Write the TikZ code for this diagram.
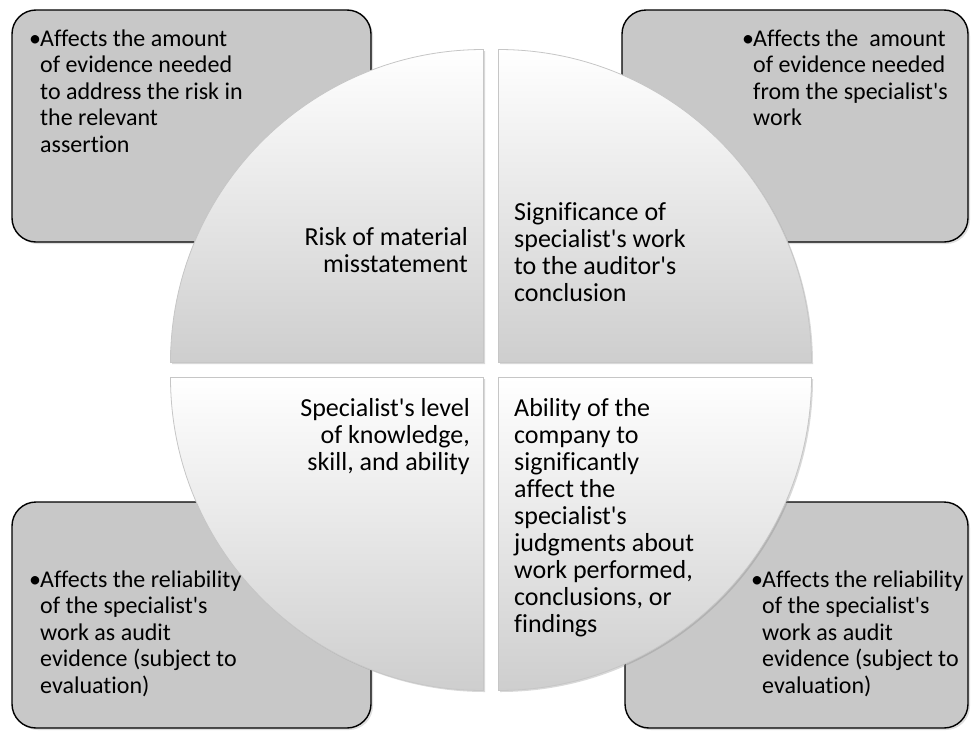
\documentclass[tikz,border=0pt]{standalone}
\usepackage{fontspec}
\newfontfamily\carlito{Carlito}[Ligatures = {NoCommon}]
\usetikzlibrary{shadows}
\definecolor{boxgray}{RGB}{200,200,200}
\definecolor{slicegray}{RGB}{206,206,206}
\newcommand{\bul}{\makebox[11pt][l]{•}}

\begin{document}
\begin{tikzpicture}[x = 1pt, y = -1pt,
  infobox/.style = {draw = black, line width = 1.4pt, fill = boxgray, rounded corners = 24pt,
    drop shadow = {shadow xshift = 2pt, shadow yshift = -2pt, opacity = 0.25}},
  slice/.style = {draw = gray!45, line width = 0.8pt, top color = white, bottom color = slicegray,
    drop shadow = {shadow xshift = 1.5pt, shadow yshift = -1.5pt, opacity = 0.3}},
  boxtext/.style = {inner sep = 0pt, anchor = base west, font = \carlito\fontsize{24}{26.5}\selectfont},
  quadtext/.style = {inner sep = 0pt, font = \carlito\fontsize{26}{27}\selectfont}]
\useasboundingbox (0, 0) rectangle (971, 731);
% Corner boxes
\path[infobox] (12, 10) rectangle (371, 242);
\path[infobox] (622, 10) rectangle (968, 242);
\path[infobox] (12, 502) rectangle (371, 728);
\path[infobox] (625, 502) rectangle (968, 728);
% Circle quadrants
\path[slice] (483.5, 362.5) -- ++(-313, 0) arc[start angle = 180, end angle = 270, radius = 313] -- cycle;
\path[slice] (498.5, 362.5) -- ++(0, -313) arc[start angle = 270, end angle = 360, radius = 313] -- cycle;
\path[slice] (498.5, 377.5) -- ++(313, 0) arc[start angle = 0, end angle = 90, radius = 313] -- cycle;
\path[slice] (483.5, 377.5) -- ++(0, 313) arc[start angle = 90, end angle = 180, radius = 313] -- cycle;
% Box texts
\node[boxtext] (riskbox) at (29, 46) {\begin{tabular}[t]{@{}l@{}l@{}}\bul&Affects the amount\\
  &of evidence needed\\&to address the risk in\\&the relevant\\&assertion\end{tabular}};
\node[boxtext] (signbox) at (742, 46) {\begin{tabular}[t]{@{}l@{}l@{}}\bul&Affects the~ amount\\
  &of evidence needed\\&from the specialist's\\&work\end{tabular}};
\node[boxtext] (skillbox) at (29, 587) {\begin{tabular}[t]{@{}l@{}l@{}}\bul&Affects the reliability\\
  &of the specialist's\\&work as audit\\&evidence (subject to\\&evaluation)\end{tabular}};
\node[boxtext] (abilitybox) at (751, 587) {\begin{tabular}[t]{@{}l@{}l@{}}\bul&Affects the reliability\\
  &of the specialist's\\&work as audit\\&evidence (subject to\\&evaluation)\end{tabular}};
% Quadrant texts
\node[quadtext, anchor = base east] (riskquad) at (468, 245) {\begin{tabular}[t]{@{}r@{}}Risk of material\\
  misstatement\end{tabular}};
\node[quadtext, anchor = base west] (signquad) at (514, 220) {\begin{tabular}[t]{@{}l@{}}Significance of\\
  specialist's work\\to the auditor's\\conclusion\end{tabular}};
\node[quadtext, anchor = base east] (skillquad) at (470, 416) {\begin{tabular}[t]{@{}r@{}}Specialist's level\\
  of knowledge,\\skill, and ability\end{tabular}};
\node[quadtext, anchor = base west] (abilityquad) at (514, 416) {\begin{tabular}[t]{@{}l@{}}Ability of the\\
  company to\\significantly\\affect the\\specialist's\\judgments about\\work performed,\\conclusions, or\\findings\end{tabular}};
\end{tikzpicture}
\end{document}
